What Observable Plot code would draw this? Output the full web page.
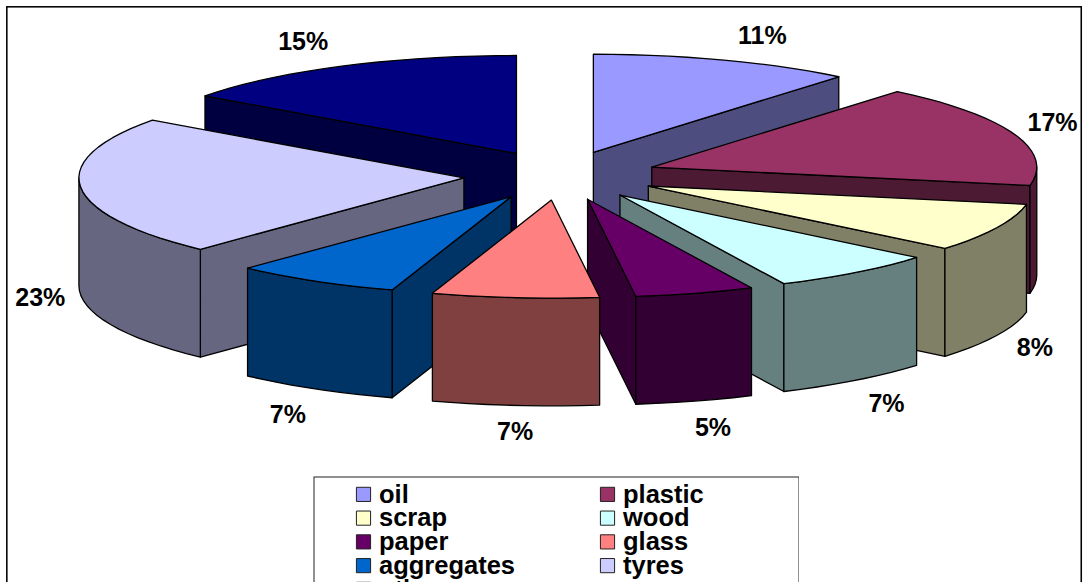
<!DOCTYPE html>
<html><head><meta charset="utf-8">
<script src="https://cdn.jsdelivr.net/npm/d3@7"></script>
<script src="https://cdn.jsdelivr.net/npm/@observablehq/plot@0.6"></script>
<style>
html,body{margin:0;padding:0;background:#fff;overflow:hidden}
#chart{position:relative;width:1091px;height:582px;overflow:hidden}
#legend{position:absolute;left:313px;top:476px;width:486px;height:106px;overflow:hidden}
</style></head><body>
<div id="chart"><div id="main"></div><div id="legend"></div></div>
<script>
const categories = ["oil","plastic","scrap","wood","paper","glass","aggregates","tyres","other"];
const percents   = [11,17,8,7,5,7,7,23,15];
const topColors  = ["#9999ff","#993366","#ffffcc","#ccffff","#660066","#ff8080","#0066cc","#ccccff","#000080"];
const sideColors = ["#4d4d80","#4d1a33","#808066","#668080","#330033","#804040","#003366","#666680","#000040"];

// Pie geometry, in units of the ellipse's radii
const explode = 0.252, depth = 1.10, step = 3;
const rad = d => d * Math.PI / 180;
const clamp = (v, a, b) => Math.max(a, Math.min(b, v));

let acc = 0;
const slices = categories.map((name, i) => {
  const a0 = acc / 100 * 360; acc += percents[i]; const a1 = acc / 100 * 360;
  const mid = (a0 + a1) / 2;
  return {name, i, a0, a1, mid, pct: percents[i],
          ax: explode * Math.sin(rad(mid)), ay: explode * Math.cos(rad(mid))};
});
const rim = (s, a) => [s.ax + Math.sin(rad(a)), s.ay + Math.cos(rad(a))];
const arc = (s, from, to) => {
  const out = [];
  const n = Math.max(1, Math.ceil((to - from) / step));
  for (let k = 0; k <= n; k++) out.push(rim(s, from + (to - from) * k / n));
  return out;
};
const down = p => [p[0], p[1] - depth];
const polys = [];
const add = (id, color, pts) => {
  const closed = [...pts, pts[0]];
  closed.forEach(p => polys.push({id, color, x: p[0], y: p[1]}));
};
// Back slices first
[...slices].sort((p, q) => Math.cos(rad(q.mid)) - Math.cos(rad(p.mid))).forEach(s => {
  const side = sideColors[s.i], apex = [s.ax, s.ay];
  if (Math.sin(rad(s.a0)) < 0) {
    const e = rim(s, s.a0);
    add(s.name + "-w0", side, [apex, e, down(e), down(apex)]);
  }
  if (Math.sin(rad(s.a1)) > 0) {
    const e = rim(s, s.a1);
    add(s.name + "-w1", side, [apex, e, down(e), down(apex)]);
  }
  const lo = Math.max(s.a0, 90), hi = Math.min(s.a1, 270);
  if (hi > lo) {
    const a = arc(s, lo, hi);
    add(s.name + "-c", side, [...a, ...a.map(down).reverse()]);
  }
  add(s.name + "-t", topColors[s.i], [apex, ...arc(s, s.a0, s.a1)]);
});

const labels = slices.map(s => {
  const sn = Math.sin(rad(s.mid)), cs = Math.cos(rad(s.mid));
  const gapX = cs > 0 ? 0.1 * Math.sign(sn) : 0.105 * Math.sign(sn) * Math.sqrt(Math.max(0, Math.abs(sn) - 0.1) / 0.9);
  const gapY = cs > 0 ? 0.25 * clamp(cs * 1.35, 0, 1) : 0.27 * clamp(cs * 1.15, -1, 0);
  return {
    text: s.pct + "%",
    x: (1 + explode) * sn + gapX,
    y: (1 + explode) * cs + gapY - (cs < 0 ? depth : 0)
  };
});

const W = 1091, H = 582, cx = 560, cy = 175, rx = 385, ry = 98;
const main = Plot.plot({
  width: W, height: H, margin: 0,
  style: {background: "#fff", overflow: "visible"},
  x: {type: "linear", domain: [-cx / rx, (W - cx) / rx], range: [0, W], axis: null},
  y: {type: "linear", domain: [cy / ry, (cy - H) / ry], range: [0, H], axis: null},
  color: {type: "identity"},
  marks: [
    Plot.line(polys, {x: "x", y: "y", z: "id", fill: "color", stroke: "#000", strokeWidth: 1.3, curve: "linear", strokeLinejoin: "round"}),
    Plot.text(labels, {x: "x", y: "y", text: "text", fontFamily: "Liberation Sans, Arial, sans-serif", fontWeight: "bold", fontSize: 25, fill: "#000"})
  ]
});
document.getElementById("main").appendChild(main);

const legendRows = categories.map((name, i) => ({name, col: i % 2, row: Math.floor(i / 2), color: topColors[i]}));
const legend = Plot.plot({
  width: 486, height: 130, margin: 0,
  style: {background: "#fff", overflow: "hidden"},
  x: {type: "linear", domain: [0, 486], range: [0, 486], axis: null},
  y: {type: "linear", domain: [0, 5], range: [6, 124.75], axis: null},
  color: {type: "identity"},
  marks: [
    Plot.dot(legendRows, {x: d => 50 + d.col * 244, y: d => d.row + 0.5, symbol: "square", r: 8, fill: "color", stroke: "#222", strokeWidth: 1}),
    Plot.text(legendRows, {x: d => 65.5 + d.col * 244, y: d => d.row + 0.5, text: "name", textAnchor: "start", fontFamily: "Liberation Sans, Arial, sans-serif", fontWeight: "bold", fontSize: 25.5, fill: "#000"}),
    Plot.frame({stroke: "#222", strokeWidth: 1, inset: 0.5})
  ]
});
document.getElementById("legend").appendChild(legend);

const frame = Plot.plot({
  width: W + 30, height: H + 30, margin: 0,
  style: {background: "transparent", position: "absolute", left: 0, top: 0, pointerEvents: "none"},
  x: {type: "linear", domain: [0, W + 30], range: [0, W + 30], axis: null},
  y: {type: "linear", domain: [0, H + 30], range: [0, H + 30], axis: null},
  marks: [Plot.rect([0], {x1: 7, x2: W + 20, y1: 7, y2: H + 20, fill: "none", stroke: "#000", strokeWidth: 1.6})]
});
document.getElementById("chart").appendChild(frame);
</script></body></html>
